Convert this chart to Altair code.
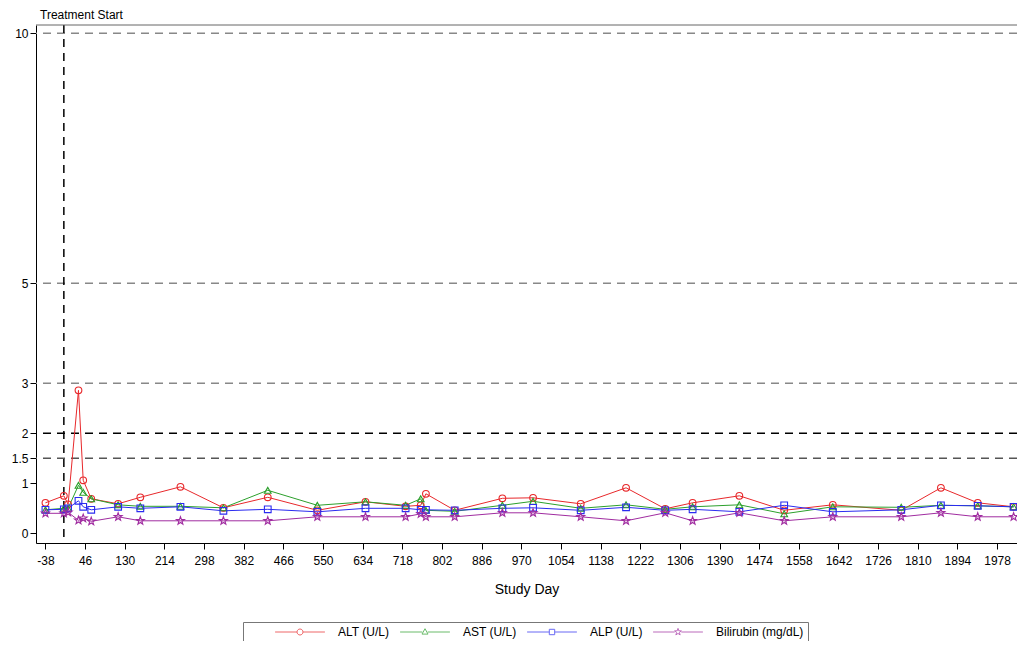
import altair as alt
import pandas as pd

FONT = "Liberation Sans"

# ---------------- data ----------------
days = [-38, 1, 10, 32, 42, 59, 116, 163, 248, 339, 433, 538, 640, 725, 757, 768,
        829, 930, 995, 1096, 1192, 1275, 1333, 1432, 1527, 1630, 1775, 1859, 1937, 2013]
alt_vals = [0.61, 0.75, 0.58, 2.86, 1.06, 0.69, 0.59, 0.72, 0.93, 0.51, 0.72, 0.46, 0.63, 0.54, 0.56, 0.79,
            0.46, 0.70, 0.71, 0.59, 0.91, 0.49, 0.61, 0.75, 0.46, 0.57, 0.46, 0.91, 0.61, 0.53]
ast_vals = [0.47, 0.50, 0.50, 0.96, 0.82, 0.69, 0.57, 0.54, 0.54, 0.51, 0.86, 0.56, 0.63, 0.56, 0.69, 0.46,
            0.44, 0.56, 0.64, 0.50, 0.57, 0.48, 0.53, 0.57, 0.39, 0.53, 0.52, 0.56, 0.55, 0.53]
alp_vals = [0.47, 0.48, 0.50, 0.65, 0.53, 0.47, 0.53, 0.50, 0.53, 0.45, 0.48, 0.43, 0.50, 0.50, 0.47, 0.47,
            0.46, 0.50, 0.51, 0.46, 0.52, 0.46, 0.48, 0.43, 0.56, 0.43, 0.47, 0.56, 0.55, 0.53]
bili_vals = [0.40, 0.40, 0.42, 0.26, 0.30, 0.24, 0.33, 0.25, 0.25, 0.25, 0.25, 0.33, 0.33, 0.33, 0.39, 0.33,
             0.33, 0.41, 0.41, 0.33, 0.25, 0.41, 0.25, 0.41, 0.25, 0.33, 0.33, 0.41, 0.33, 0.33]

series_names = ["ALT (U/L)", "AST (U/L)", "ALP (U/L)", "Bilirubin (mg/dL)"]
series_colors = ["#e8282b", "#2ca02c", "#2b2bf0", "#a02ca0"]

x_ticks = [-38 + 84 * i for i in range(25)]   # -38 ... 1978
y_ticks = [0, 1, 1.5, 2, 3, 5, 10]
ref_values = [1.5, 2, 3, 5, 10]
ref_colors = ["#555555", "#000000", "#888888", "#888888", "#888888"]
treatment_day = [1]

# ---------------- shapes ----------------
STAR = ("M0,-1.25L0.29,-0.4L1.19,-0.39L0.48,0.16L0.73,1.01L0,0.5L-0.73,1.01L-0.48,0.16"
        "L-1.19,-0.39L-0.29,-0.4Z")
marker_shapes = ["circle", "triangle-up", "square", STAR]
legend_paths = [
    "M-8.3,0H-1M1,0H8.3M1,0A1,1,0,1,1,-1,0A1,1,0,1,1,1,0Z",
    "M-8.3,0H-0.9M0.9,0H8.3M0,-1.1L1,0.7L-1,0.7Z",
    "M-8.3,0H-0.9M0.9,0H8.3M-0.9,-0.9H0.9V0.9H-0.9Z",
    "M-8.3,0H-1.1M1.1,0H8.3M0,-1.2L0.28,-0.39L1.14,-0.37L0.46,0.15L0.71,0.97L0,0.48"
    "L-0.71,0.97L-0.46,0.15L-1.14,-0.37L-0.28,-0.39Z",
]

rows = []
for name, vals in zip(series_names, [alt_vals, ast_vals, alp_vals, bili_vals]):
    for d, v in zip(days, vals):
        rows.append({"day": d, "value": v, "series": name})
df = pd.DataFrame(rows)
ref_df = pd.DataFrame({"value": ref_values, "c": ref_colors})
trt_df = pd.DataFrame({"day": treatment_day})

# plot area: 981 x 518, svg 1009 x 633 (fits the 1025 x 649 page with its 8px margins)
W, H = 981, 518
PAD = {"left": 28, "top": 17, "right": 0, "bottom": 98}

xscale = alt.Scale(domain=[-58, 2020.2], nice=False, zero=False)
yscale = alt.Scale(domain=[-0.194, 10.166], nice=False, zero=False)
xaxis = alt.Axis(values=x_ticks, labelExpr="'' + datum.value", tickSize=6, labelPadding=6,
                 title="Study Day", titleFontSize=14, titlePadding=16, labelFontSize=12,
                 labelFlush=False, labelOverlap=False, grid=False)
yaxis = alt.Axis(values=y_ticks, labelExpr="'' + datum.value", tickSize=6, labelPadding=2,
                 title=None, labelFontSize=12, grid=False, labelOverlap=False)


def X():
    return alt.X("day:Q", scale=xscale, axis=xaxis)


def Y():
    return alt.Y("value:Q", scale=yscale, axis=yaxis)


cscale = alt.Scale(domain=series_names, range=series_colors)

ref_rules = alt.Chart(ref_df).mark_rule(strokeDash=[8, 6], strokeWidth=1.6).encode(
    y=Y(), color=alt.Color("c:N", scale=None)
)
trt_rule = alt.Chart(trt_df).mark_rule(strokeDash=[8, 6], strokeWidth=1.5, color="black").encode(
    x=X()
)
lines = alt.Chart(df).mark_line(strokeWidth=1).encode(
    x=X(), y=Y(), color=alt.Color("series:N", scale=cscale, legend=None)
)
points = alt.Chart(df).mark_point(filled=False, size=45, strokeWidth=1.1, opacity=1).encode(
    x=X(), y=Y(),
    color=alt.Color("series:N", scale=cscale, legend=None),
    shape=alt.Shape("series:N", scale=alt.Scale(domain=series_names, range=marker_shapes), legend=None),
)

legend_kw = dict(orient="none", legendX=207, legendY=597, direction="horizontal",
                 title="\u00a0", titleOrient="left", titlePadding=47, titleFontSize=12,
                 padding=4, strokeColor="#777777", labelFontSize=12, labelFont=FONT,
                 labelColor="black", labelOffset=32, columnPadding=8, gridAlign="none",
                 symbolSize=36, symbolStrokeWidth=1)
legend_layer = alt.Chart(df).mark_point(filled=False, strokeWidth=1).transform_filter("false").encode(
    x=X(), y=Y(),
    color=alt.Color("series:N", scale=cscale, legend=alt.Legend(**legend_kw)),
    shape=alt.Shape("series:N", scale=alt.Scale(domain=series_names, range=legend_paths),
                    legend=alt.Legend(**legend_kw)),
)
top_border = alt.Chart(trt_df).mark_rule(color="#666666", strokeWidth=1).encode(
    y=alt.value(0), x=alt.value(0), x2=alt.value(W)
)

chart = alt.layer(ref_rules, trt_rule, lines, points, legend_layer, top_border).resolve_scale(
    color="independent", shape="independent"
).properties(
    width=W, height=H,
    autosize=alt.AutoSizeParams(type="none"),
    padding=PAD,
    title=alt.TitleParams("Treatment Start", anchor="start", frame="group", fontSize=12,
                          font=FONT, fontWeight="normal", color="black", offset=2, dx=4),
).configure_view(stroke=None).configure_axis(
    labelFont=FONT, titleFont=FONT, labelColor="black", titleColor="black",
    domainColor="black", tickColor="black", titleFontWeight="normal"
)

chart.save("out.html", embed_options={"renderer": "svg", "actions": False})
